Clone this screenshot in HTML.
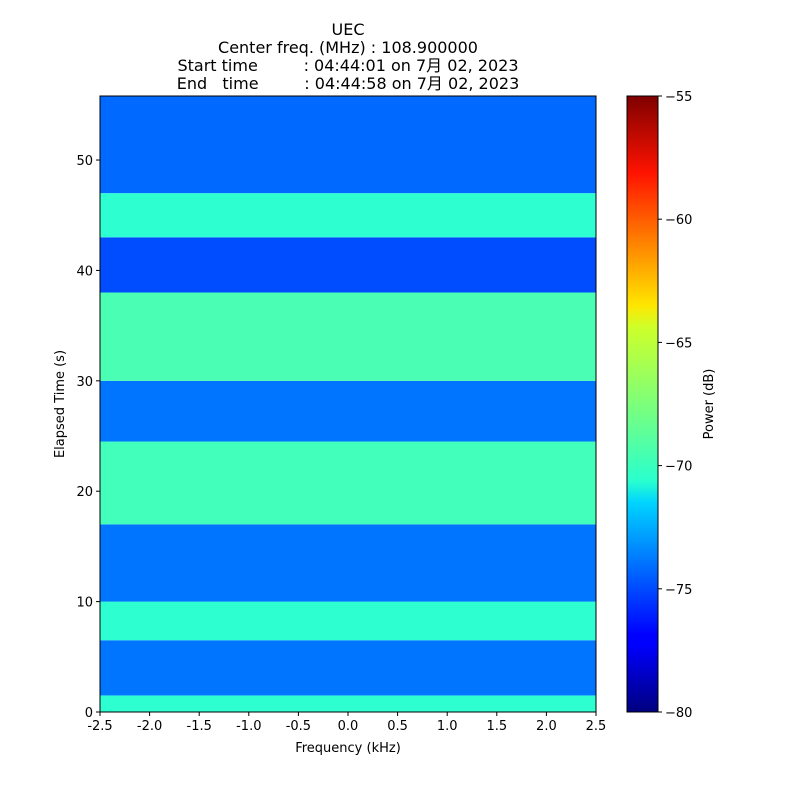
<!DOCTYPE html>
<html><head><meta charset="utf-8"><style>
body{margin:0;background:#fff}
svg text{font-family:"DejaVu Sans","Noto Sans CJK JP",sans-serif;fill:#000;white-space:pre}
</style></head><body>
<svg width="800" height="800" xmlns="http://www.w3.org/2000/svg">
<g font-size="16" text-anchor="middle">
<text x="348" y="35">UEC</text>
<text x="348" y="53">Center freq. (MHz) : 108.900000</text>
<text x="348" y="71">Start time         : 04:44:01 on 7月 02, 2023</text>
<text x="348" y="89">End   time         : 04:44:58 on 7月 02, 2023</text>
</g>
<g id="heat"></g>
<defs><linearGradient id="jet" x1="0" y1="1" x2="0" y2="0">
<stop offset="0" stop-color="#00007f"/><stop offset="0.11" stop-color="#0000ff"/><stop offset="0.125" stop-color="#0000ff"/><stop offset="0.34" stop-color="#00d4ff"/><stop offset="0.375" stop-color="#29ffce"/><stop offset="0.5" stop-color="#7dff7a"/><stop offset="0.625" stop-color="#ceff29"/><stop offset="0.66" stop-color="#ffe600"/><stop offset="0.875" stop-color="#ff1300"/><stop offset="1" stop-color="#7f0000"/></linearGradient></defs>
<rect x="627" y="96" width="31" height="616" fill="url(#jet)" stroke="#000"/>
<g id="axes"></g>
<text x="348" y="752" font-size="13" text-anchor="middle">Frequency (kHz)</text>
<text transform="translate(64,404) rotate(-90)" font-size="13" text-anchor="middle">Elapsed Time (s)</text>
<text transform="translate(713,404) rotate(-90)" font-size="13" text-anchor="middle">Power (dB)</text>
</svg>
<script>
const bandStarts=[0,1.5,6.5,10,17,24.5,30,38,43,47];
const bandEnds=[1.5,6.5,10,17,24.5,30,38,43,47,55.8];
const bandPower=[-69.5,-74,-69.5,-74,-69,-74,-68.8,-75,-69.5,-74.3];
const xTicks=[-2.5,-2,-1.5,-1,-0.5,0,0.5,1,1.5,2,2.5];
const xTickLabels=["-2.5","-2.0","-1.5","-1.0","-0.5","0.0","0.5","1.0","1.5","2.0","2.5"];
const yTicks=[0,10,20,30,40,50];
const cTicks=[-80,-75,-70,-65,-60,-55];
const NS="http://www.w3.org/2000/svg";
const X0=100,X1=596,Y0=712,Y1=96,TMAX=55.8;
const xs=v=>X0+(v+2.5)/5*(X1-X0);
const ys=v=>Y0-v/TMAX*(Y0-Y1);
const cs=v=>712-(v+80)/25*616;
function jet(v){let t=(v+80)/25;const c=x=>Math.max(0,Math.min(1,x));
const r=c(1.5-Math.abs(4*t-3)),g=c(1.5-Math.abs(4*t-2)),b=c(1.5-Math.abs(4*t-1));
return `rgb(${r*255|0},${g*255|0},${b*255|0})`;}
function mk(tag,attrs,parent){const e=document.createElementNS(NS,tag);for(const k in attrs)e.setAttribute(k,attrs[k]);parent.appendChild(e);return e;}
const heat=document.getElementById('heat'),ax=document.getElementById('axes');
bandPower.forEach((p,i)=>{const r=mk('rect',{x:X0,y:ys(bandEnds[i]),width:X1-X0,height:ys(bandStarts[i])-ys(bandEnds[i]),fill:jet(p)},heat);

});
const fr=mk('rect',{x:X0,y:Y1,width:X1-X0,height:Y0-Y1,fill:'none',stroke:'#000'},ax);


xTicks.forEach((v,i)=>{mk('line',{x1:xs(v),x2:xs(v),y1:Y0,y2:Y0+4,stroke:'#000'},ax);
const t=mk('text',{x:xs(v),y:Y0+18,'font-size':13,'text-anchor':'middle'},ax);t.textContent=xTickLabels[i];

});
yTicks.forEach(v=>{mk('line',{x1:X0-4,x2:X0,y1:ys(v),y2:ys(v),stroke:'#000'},ax);
const t=mk('text',{x:X0-7,y:ys(v)+5,'font-size':13,'text-anchor':'end'},ax);t.textContent=v;

});
cTicks.forEach(v=>{mk('line',{x1:658,x2:662,y1:cs(v),y2:cs(v),stroke:'#000'},ax);
const t=mk('text',{x:665,y:cs(v)+5,'font-size':13},ax);t.textContent='\u2212'+Math.abs(v);

});
</script>
</body></html>
